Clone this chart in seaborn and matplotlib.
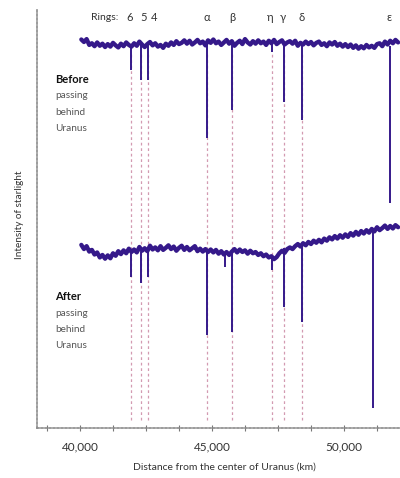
import numpy as np
import pandas as pd
import matplotlib
matplotlib.use("Agg")
import matplotlib.pyplot as plt
from matplotlib.ticker import MultipleLocator, FixedLocator, FuncFormatter
import seaborn as sns

# ---------------- data ----------------
ring_names = ["6", "5", "4", "\u03b1", "\u03b2", "\u03b7", "\u03b3", "\u03b4", "\u03b5"]
ring_label_km = [41895, 42400, 42790, 44810, 45760, 47200, 47680, 48380, 51690]
ring_km = [41930, 42310, 42575, 44810, 45760, 47270, 47730, 48410]

# sample grid of the recorded traces (km)
sample_km = np.arange(40050, 52100, 100)

before_base = [
    92.5, 91.9, 92.6, 91.2, 91.6, 90.9, 91.8, 91.0, 91.5, 90.7,
    91.4, 90.8, 91.7, 91.1, 90.6, 91.5, 90.9, 91.8, 91.2, 90.8,
    91.6, 91.0, 92.0, 91.3, 90.7, 91.4, 91.9, 91.1, 91.6, 90.8,
    91.2, 90.5, 91.5, 91.0, 91.8, 91.2, 92.1, 91.4, 91.7, 92.3,
    91.5, 92.2, 91.3, 91.8, 92.4, 91.6, 92.0, 91.1, 92.3, 91.7,
    92.5, 91.6, 92.0, 91.2, 91.8, 92.4, 91.5, 92.1, 91.0, 91.7,
    92.2, 91.4, 92.6, 91.8, 91.3, 92.1, 91.5, 92.3, 91.6, 92.0,
    91.2, 92.2, 91.6, 92.4, 91.4, 91.9, 92.3, 91.3, 91.8, 92.1,
    91.5, 92.2, 91.0, 91.7, 91.3, 92.0, 91.4, 91.9, 91.1, 91.7,
    92.0, 91.2, 91.6, 90.9, 91.8, 91.3, 91.9, 91.0, 91.5, 90.8,
    91.4, 90.7, 91.3, 90.5, 91.1, 90.3, 90.9, 90.4, 91.2, 90.6,
    91.0, 90.5, 91.4, 91.6, 90.9, 92.0, 91.3, 92.2, 91.6, 92.4,
    91.8]
after_base = [
    43.6, 42.6, 43.3, 42.0, 42.4, 41.3, 41.8, 40.6, 41.2, 40.3,
    41.1, 40.4, 41.6, 41.0, 42.1, 41.4, 42.3, 41.6, 42.7, 41.9,
    42.5, 41.8, 43.1, 42.2, 42.8, 42.1, 43.4, 42.5, 43.0, 42.3,
    43.3, 42.4, 42.9, 43.5, 42.6, 43.2, 42.2, 42.9, 43.4, 42.4,
    43.1, 42.3, 42.8, 43.3, 42.1, 42.7, 42.0, 42.6, 41.9, 42.5,
    41.8, 42.4, 41.5, 42.1, 41.3, 41.9, 41.2, 42.0, 42.6, 41.8,
    42.5, 41.9, 42.3, 41.5, 42.2, 41.6, 41.9, 41.2, 41.6, 40.9,
    41.3, 40.6, 40.9, 40.2, 40.7, 41.6, 42.2, 41.7, 42.6, 43.0,
    42.6, 43.3, 43.8, 43.2, 44.0, 43.5, 44.3, 43.8, 44.6, 44.1,
    44.8, 44.2, 45.1, 44.6, 45.4, 44.9, 45.7, 45.1, 45.9, 45.3,
    46.1, 45.5, 46.4, 45.8, 46.7, 46.0, 46.9, 46.3, 47.1, 46.5,
    47.4, 46.8, 47.8, 47.1, 47.6, 48.2, 47.4, 48.1, 47.5, 48.3,
    47.8]

# occultation dips: position (km), trace level above the dip, minimum intensity
before_dip_km = [41930, 42310, 42575, 44810, 45760, 47270, 47730, 48410, 51740]
before_dip_top = [91.3, 91.3, 91.3, 91.5, 91.5, 91.5, 91.5, 91.3, 91.0]
before_dip_val = [85.2, 82.9, 82.9, 69.0, 75.7, 89.6, 77.6, 73.3, 53.6]
after_dip_km = [41930, 42310, 42575, 44810, 45493, 45760, 47270, 47730, 48410, 51100]
after_dip_top = [42.3, 42.0, 43.0, 42.3, 41.6, 42.0, 41.0, 42.8, 43.8, 47.0]
after_dip_val = [36.0, 34.5, 36.0, 22.1, 38.3, 22.9, 37.6, 28.8, 25.2, 4.8]

x_ticks = [40000, 45000, 50000]

# ---------------- figure ----------------
sns.set_style("white")
plt.rcParams["font.family"] = ["Lato", "DejaVu Sans"]

fig = plt.figure(figsize=(4.0, 4.78), dpi=100)
ax = fig.add_axes([0.0925, 0.1046, 0.9075, 0.8787])

trace_color = "#35198a"

before_df = pd.DataFrame({"km": sample_km, "val": before_base})
after_df = pd.DataFrame({"km": sample_km, "val": after_base})

ax.vlines(ring_km, 1.9, 89.5, colors="#d39ab1", linestyles=(0, (2.2, 2.2)),
          linewidth=0.9, zorder=1)

sns.lineplot(data=before_df, x="km", y="val", estimator=None, sort=True,
             color=trace_color, linewidth=3.1, ax=ax, zorder=3)
sns.lineplot(data=after_df, x="km", y="val", estimator=None, sort=True,
             color=trace_color, linewidth=3.1, ax=ax, zorder=3)

ax.vlines(before_dip_km, before_dip_val, before_dip_top, colors=trace_color,
          linewidth=1.4, zorder=3)
ax.vlines(after_dip_km, after_dip_val, after_dip_top, colors=trace_color,
          linewidth=1.4, zorder=3)

ax.set_xlim(38371, 52121)
ax.set_ylim(0, 100)

# spines
for side in ["top", "right"]:
    ax.spines[side].set_visible(False)
for side in ["left", "bottom"]:
    ax.spines[side].set_linestyle((0, (1.2, 1.2)))
    ax.spines[side].set_color("#8a8a8a")
    ax.spines[side].set_linewidth(1.2)

ax.set_yticks([])
ax.xaxis.set_major_locator(FixedLocator(x_ticks))
ax.xaxis.set_minor_locator(MultipleLocator(1250))
ax.xaxis.set_major_formatter(FuncFormatter(lambda v, p: f"{int(v):,}"))
ax.tick_params(axis="x", which="both", direction="inout", length=4,
               width=0.8, color="#777777", bottom=True)
ax.tick_params(axis="x", which="major", labelsize=8.5, pad=8,
               labelcolor="#333333")

ax.set_xlabel("Distance from the center of Uranus (km)", fontsize=7.5,
              color="#333333")
ax.xaxis.set_label_coords(0.515, -0.082)
ax.set_ylabel("Intensity of starlight", fontsize=7.2, color="#333333")
ax.yaxis.set_label_coords(-0.035, 0.507)

# ring labels
ring_label_y = 97.8
ax.text(41440, ring_label_y, "Rings:", fontsize=7.5, color="#333333",
        ha="right", va="center")
for name, km in zip(ring_names, ring_label_km):
    ax.text(km, ring_label_y, name, fontsize=8, color="#333333",
            ha="center", va="center")

# annotations
def block(y_top, head):
    ax.text(39053, y_top, head, fontsize=8, fontweight="bold",
            color="#111111", ha="left", va="center")
    for i, w in enumerate(["passing", "behind", "Uranus"]):
        ax.text(39053, y_top - (i + 1) * 3.85, w, fontsize=7.2,
                color="#555555", ha="left", va="center")

block(82.9, "Before")
block(31.2, "After")

fig.savefig("out.png", dpi=100)
